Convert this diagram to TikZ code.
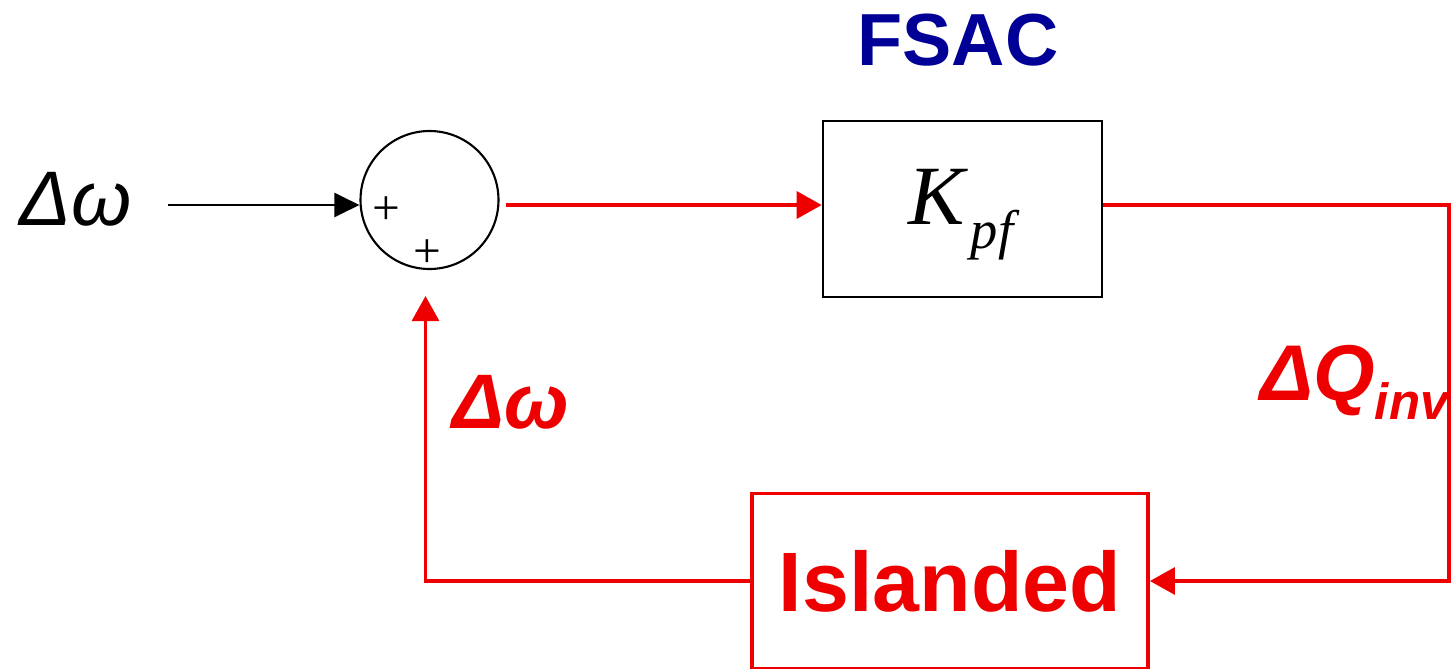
\documentclass[tikz,border=0pt]{standalone}
\definecolor{sigred}{RGB}{238,0,0}
\definecolor{navy}{RGB}{0,0,150}
\usepackage{fontspec}
\setmainfont{Liberation Sans}
\newfontfamily\timesfam{Liberation Serif}
\usetikzlibrary{arrows.meta,positioning,calc}
\tikzset{
  block/.style={draw=black, line width=1.5pt, minimum width=5.58cm, minimum height=3.52cm, inner sep=0pt},
  plant/.style={draw=sigred, line width=2.2pt, minimum width=7.92cm, minimum height=3.5cm, inner sep=0pt,
              text=sigred, font=\fontsize{48}{48}\selectfont\bfseries},
  summer/.style={circle, draw=black, line width=1.2pt, minimum size=2.76cm, inner sep=0pt},
  sign/.style={font=\timesfam\fontsize{28}{28}\selectfont, inner sep=0pt},
  lbl/.style={inner sep=0pt, anchor=base west},
  flow/.style={-{Triangle[length=5mm,width=4.8mm]}, line width=1.2pt},
  redflow/.style={-{Triangle[length=5mm,width=5.4mm]}, sigred, line width=1.9pt},
}

\begin{document}
\begin{tikzpicture}
    \useasboundingbox (0,0) rectangle (29.04,-13.36);
    \coordinate (row) at (0,-4.1);
    \coordinate (corner) at (28.98,-4.1);
    % summing junction
    \node[summer] (sum) at (8.59,-4.0) {};
    \node[sign] (pa) at ($(sum.center)+(-0.87,-0.22)$) {+};
    \node[sign] (pb) at ($(sum.center)+(-0.05,-1.08)$) {+};
    % controller and plant
    \node[block] (kpf) at (19.25,-4.18) {};
    \node[inner sep=0pt, anchor=base, font=\timesfam\itshape\fontsize{48}{48}\selectfont] (kval) at (19.22,-4.48)
      {K\kern0.12cm\raisebox{-0.48cm}{\fontsize{31}{31}\selectfont pf}};
    \node[plant] (isl) at (19.0,-11.62) {Islanded};
    \node[anchor=base, text=navy, font=\fontsize{42}{42}\selectfont\bfseries] (fsac) at (19.16,-1.3) {FSAC};
    % signal labels
    \node[lbl, font=\fontsize{44}{44}\selectfont\itshape] (win) at (0.38,-4.5) {Δω};
    \node[lbl, text=sigred, font=\fontsize{44}{44}\selectfont\bfseries\itshape] (wfb) at (9.04,-8.56) {Δω};
    \node[lbl, text=sigred, font=\fontsize{45}{45}\selectfont\bfseries\itshape] (dq) at (25.2,-8.0)
      {ΔQ\raisebox{-0.38cm}{\fontsize{29}{29}\selectfont inv}};
    % connections
    \draw[flow, shorten <=0.72cm] (win.east |- row) -- (sum.west |- row);
    \draw[redflow, shorten <=0.12cm] (sum.east |- row) -- (kpf.west |- row);
    \draw[redflow] (kpf.east |- row) -- (corner) |- (isl.east);
    \draw[redflow, shorten >=0.52cm] (isl.west) -| ([xshift=-0.08cm]sum.south);
\end{tikzpicture}
\end{document}
